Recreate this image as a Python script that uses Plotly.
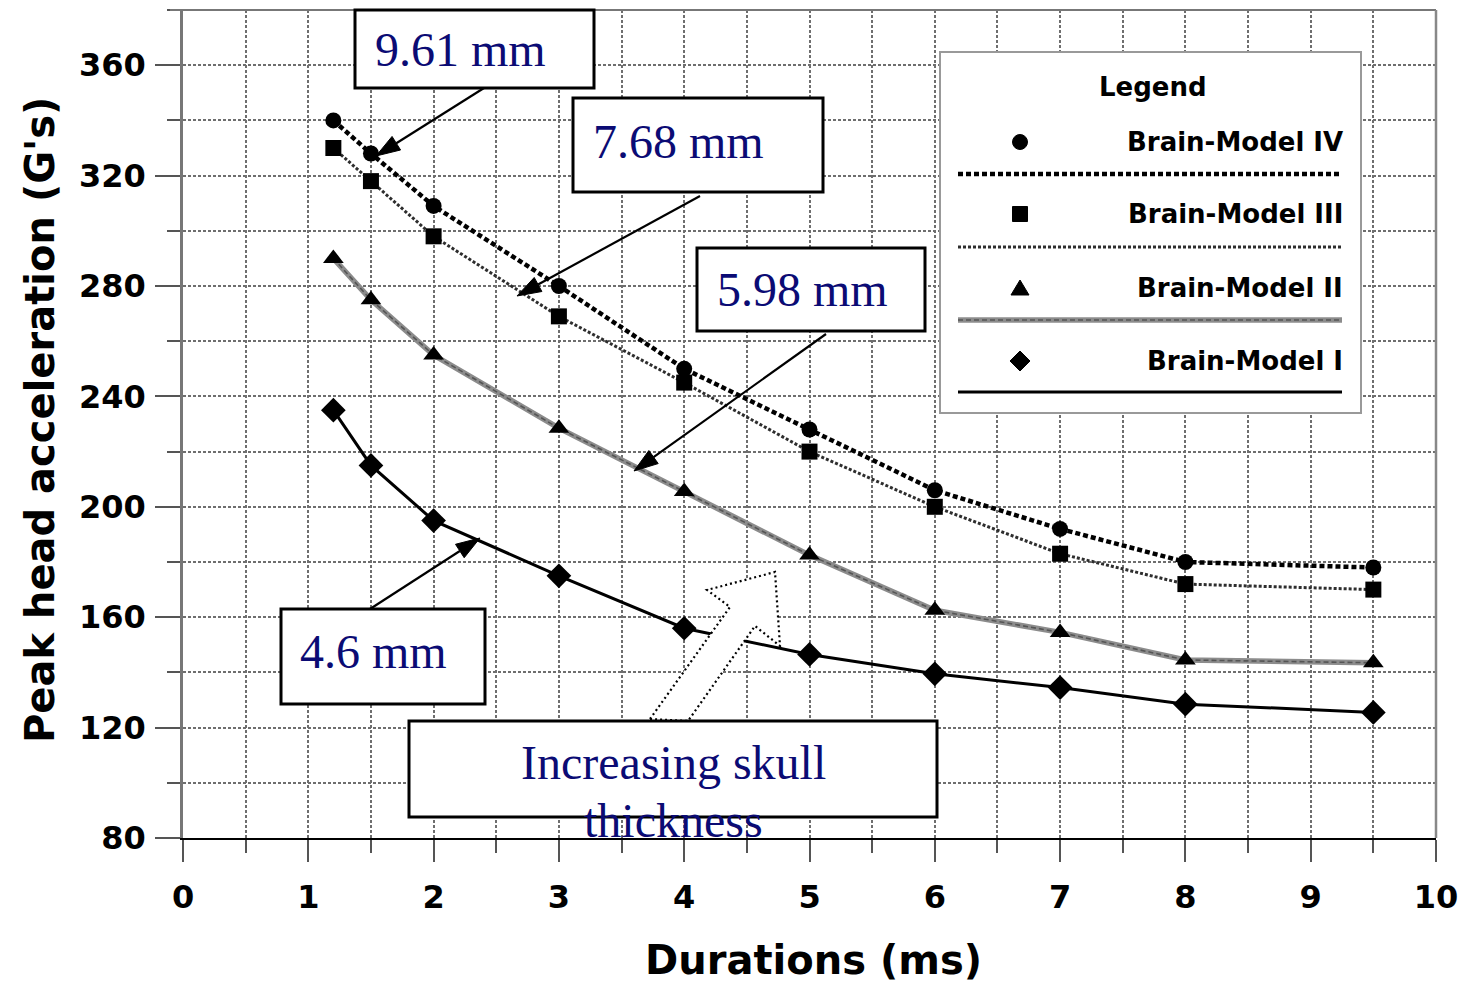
import math
import plotly.graph_objects as go

# Impact durations (ms) and peak head acceleration (G's) for each brain model
durations = [1.2, 1.5, 2, 3, 4, 5, 6, 7, 8, 9.5]
model_iv = [340, 328, 309, 280, 250, 228, 206, 192, 180, 178]
model_iii = [330, 318, 298, 269, 245, 220, 200, 183, 172, 170]
model_ii = [290, 275, 255, 228.5, 205.5, 182.5, 162.5, 154.5, 144.5, 143.5]
model_i = [235, 215, 195, 175, 156, 146.5, 139.5, 134.5, 128.5, 125.5]

legend_names = ["Brain-Model IV", "Brain-Model III", "Brain-Model II", "Brain-Model I"]
x_ticks = list(range(0, 11))
y_ticks = [80, 120, 160, 200, 240, 280, 320, 360]

# Canvas geometry (pixels) of the plotting area
W, H = 1468, 986
L, R, T, B = 183, 1436, 10, 838


def px(p):
    return (p - L) / (R - L)


def py(p):
    return (B - p) / (B - T)


def pix_path(points, close=True):
    s = "M " + " L ".join(f"{px(a):.5f},{py(b):.5f}" for a, b in points)
    return s + (" Z" if close else "")


NAVY = "#0b0b74"
BOLD = dict(family="DejaVu Sans", size=32, color="black", weight="bold")

STYLE_IV = [dict(color="black", width=4.5, dash="5px,3px")]
STYLE_III = [dict(color="#2e2e2e", width=3, dash="3px,2px")]
STYLE_II = [dict(color="#8c8c8c", width=5.5), dict(color="#555555", width=1.6, dash="5px,3px")]
STYLE_I = [dict(color="black", width=3)]

fig = go.Figure()

# Brain-Model IV: heavy dotted line, circles
fig.add_trace(go.Scatter(x=durations, y=model_iv, mode="lines+markers", line=STYLE_IV[0],
                         marker=dict(symbol="circle", size=16, color="black"),
                         cliponaxis=False, showlegend=False))
# Brain-Model III: fine dotted line, squares
fig.add_trace(go.Scatter(x=durations, y=model_iii, mode="lines+markers", line=STYLE_III[0],
                         marker=dict(symbol="square", size=16, color="black"),
                         cliponaxis=False, showlegend=False))
# Brain-Model II: grey band with darker dashes, triangles
fig.add_trace(go.Scatter(x=durations, y=model_ii, mode="lines", line=STYLE_II[0],
                         showlegend=False, hoverinfo="skip"))
fig.add_trace(go.Scatter(x=durations, y=model_ii, mode="lines+markers", line=STYLE_II[1],
                         marker=dict(symbol="triangle-up", size=18, color="black"),
                         cliponaxis=False, showlegend=False))
# Brain-Model I: solid line, diamonds
fig.add_trace(go.Scatter(x=durations, y=model_i, mode="lines+markers", line=STYLE_I[0],
                         marker=dict(symbol="diamond", size=19, color="black"),
                         cliponaxis=False, showlegend=False))

shapes = []
annotations = []

# Outer frame: grey top and right edges
shapes.append(dict(type="line", xref="paper", yref="paper", x0=-13 / (R - L), x1=1, y0=1, y1=1,
                   line=dict(color="#777", width=2)))
shapes.append(dict(type="line", xref="paper", yref="paper", x0=1, x1=1, y0=0, y1=1,
                   line=dict(color="#888", width=2.5)))

# Legend panel
shapes.append(dict(type="rect", xref="paper", yref="paper", x0=px(940), x1=px(1361),
                   y0=py(413), y1=py(52), fillcolor="white",
                   line=dict(color="#999", width=2)))
annotations.append(dict(text="Legend", xref="paper", yref="paper", x=px(1153), y=py(87),
                        showarrow=False, xanchor="center", yanchor="middle",
                        font=dict(family="DejaVu Sans", size=26, color="black", weight="bold")))
legend_rows = [142, 214, 288, 361]
legend_lines = [174, 247, 320, 392]
legend_styles = [STYLE_IV, STYLE_III, STYLE_II, STYLE_I]
for name, ry, ly, styles in zip(legend_names, legend_rows, legend_lines, legend_styles):
    annotations.append(dict(text=name, xref="paper", yref="paper", x=px(1345), y=py(ry),
                            showarrow=False, xanchor="right", yanchor="middle",
                            font=dict(family="DejaVu Sans", size=26, color="black", weight="bold")))
    for st in styles:
        shapes.append(dict(type="line", xref="paper", yref="paper", x0=px(958), x1=px(1342),
                           y0=py(ly), y1=py(ly), line=st))

# Legend sample symbols
mx = 1020
r = 7.5
fill = dict(fillcolor="black", line=dict(color="black", width=1))
shapes.append(dict(type="circle", xref="paper", yref="paper", x0=px(mx - r), x1=px(mx + r),
                   y0=py(legend_rows[0] + r), y1=py(legend_rows[0] - r), **fill))
shapes.append(dict(type="rect", xref="paper", yref="paper", x0=px(mx - r), x1=px(mx + r),
                   y0=py(legend_rows[1] + r), y1=py(legend_rows[1] - r), **fill))
cy = legend_rows[2]
shapes.append(dict(type="path", xref="paper", yref="paper",
                   path=pix_path([(mx - 9, cy + 7), (mx + 9, cy + 7), (mx, cy - 8)]), **fill))
cy = legend_rows[3]
shapes.append(dict(type="path", xref="paper", yref="paper",
                   path=pix_path([(mx, cy - 10), (mx + 10, cy), (mx, cy + 10), (mx - 10, cy)]), **fill))

# Thickness callout boxes
boxes = [
    ("9.61 mm", (355, 594, 10, 88), (460, 50)),
    ("7.68 mm", (573, 823, 98, 192), (678, 141)),
    ("5.98 mm", (697, 925, 248, 331), (802, 290)),
    ("4.6 mm", (281, 485, 609, 704), (373, 651)),
]
for text, (x0, x1, y0, y1), (tx, ty) in boxes:
    shapes.append(dict(type="rect", xref="paper", yref="paper", x0=px(x0), x1=px(x1),
                       y0=py(y1), y1=py(y0), fillcolor="white", line=dict(color="black", width=3)))
    annotations.append(dict(text=text, xref="paper", yref="paper", x=px(tx), y=py(ty),
                            showarrow=False, xanchor="center", yanchor="middle",
                            font=dict(family="Liberation Serif", size=48, color=NAVY)))

# Pointer arrows: (head, tail) in canvas pixels, drawn as shaft + filled head
pointers = [((376, 156), (484, 88)),
            ((517, 296), (700, 196)),
            ((634, 471), (826, 334)),
            ((480, 538), (370, 609))]
HEAD_LEN, HEAD_HALF = 24, 8
for (hx, hy), (tx, ty) in pointers:
    dx, dy = hx - tx, hy - ty
    n = math.hypot(dx, dy)
    ux, uy = dx / n, dy / n
    bx, by = hx - ux * HEAD_LEN, hy - uy * HEAD_LEN
    shapes.append(dict(type="line", xref="paper", yref="paper", x0=px(tx), y0=py(ty),
                       x1=px(bx), y1=py(by), line=dict(color="black", width=2.2)))
    shapes.append(dict(type="path", xref="paper", yref="paper",
                       path=pix_path([(hx, hy), (bx - uy * HEAD_HALF, by + ux * HEAD_HALF),
                                      (bx + uy * HEAD_HALF, by - ux * HEAD_HALF)]),
                       fillcolor="black", line=dict(color="black", width=1)))

# Dotted block arrow for increasing skull thickness
block = [(650, 719), (730, 607), (707, 590), (775, 572), (780, 646), (755, 626), (688, 721)]
shapes.append(dict(type="path", xref="paper", yref="paper", path=pix_path(block), fillcolor="white",
                   line=dict(color="black", width=2.2, dash="2px,3px")))

shapes.append(dict(type="rect", xref="paper", yref="paper", x0=px(409), x1=px(937),
                   y0=py(817), y1=py(721), fillcolor="white", line=dict(color="black", width=3)))
annotations.append(dict(text="Increasing skull", xref="paper", yref="paper", x=px(673), y=py(762),
                        showarrow=False, xanchor="center", yanchor="middle",
                        font=dict(family="Liberation Serif", size=48, color=NAVY)))
annotations.append(dict(text="thickness", xref="paper", yref="paper", x=px(673), y=py(820),
                        showarrow=False, xanchor="center", yanchor="middle",
                        font=dict(family="Liberation Serif", size=48, color=NAVY)))

# Axis titles
annotations.append(dict(text="Durations (ms)", xref="paper", yref="paper", x=px(813), y=py(960),
                        showarrow=False, xanchor="center", yanchor="middle",
                        font=dict(family="DejaVu Sans", size=40, color="black", weight="bold")))
annotations.append(dict(text="Peak head acceleration (G's)", xref="paper", yref="paper",
                        x=px(40), y=py(420), textangle=-90, showarrow=False,
                        xanchor="center", yanchor="middle",
                        font=dict(family="DejaVu Sans", size=40, color="black", weight="bold")))

grid = dict(gridcolor="#6e6e6e", gridwidth=1.5, griddash="3px,2px")

fig.update_layout(
    width=W, height=H,
    margin=dict(l=L, r=W - R, t=T, b=H - B),
    paper_bgcolor="white", plot_bgcolor="white",
    shapes=shapes, annotations=annotations,
    xaxis=dict(range=[0, 10], tickmode="array", tickvals=x_ticks,
               ticktext=[str(v) for v in x_ticks],
               ticks="outside", ticklen=22, tickwidth=1.5, tickcolor="#555",
               showgrid=True, **grid,
               minor=dict(dtick=0.5, tick0=0, ticks="outside", ticklen=13, tickwidth=1.5,
                          tickcolor="#555", showgrid=True, **grid),
               showline=True, linecolor="black", linewidth=2, zeroline=False,
               tickfont=BOLD, ticklabelstandoff=8),
    yaxis=dict(range=[80, 380], tickmode="array", tickvals=y_ticks,
               ticktext=[str(v) for v in y_ticks],
               ticks="outside", ticklen=25, tickwidth=1.5, tickcolor="#555",
               showgrid=True, **grid,
               minor=dict(dtick=20, tick0=80, ticks="outside", ticklen=13, tickwidth=1.5,
                          tickcolor="#555", showgrid=True, **grid),
               showline=True, linecolor="#777", linewidth=2.5, zeroline=False,
               tickfont=BOLD, ticklabelstandoff=3),
)

fig.write_html("out.html")
